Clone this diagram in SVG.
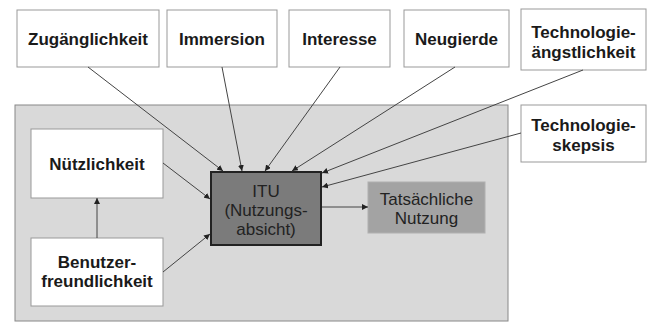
<svg xmlns="http://www.w3.org/2000/svg" width="648" height="324" viewBox="0 0 648 324">
<defs>
<marker id="ah" viewBox="0 0 10 10" refX="10" refY="5" markerWidth="6" markerHeight="6" markerUnits="userSpaceOnUse" orient="auto">
<path d="M0,0 L10,5 L0,10 z" fill="#222"/>
</marker>
<style>
.wb{fill:#fff;stroke:#999;stroke-width:1}
.bl{font-family:"Liberation Sans",Arial,sans-serif;font-weight:bold;font-size:17px;fill:#1a1a1a;text-anchor:middle}
.rl{font-family:"Liberation Sans",Arial,sans-serif;font-size:17px;fill:#222;text-anchor:middle}
.cn{stroke:#444;stroke-width:1;fill:none;marker-end:url(#ah)}
</style>
</defs>
<rect width="648" height="324" fill="#fff"/>
<g id="container"><rect x="15" y="105" width="493" height="216" fill="#d9d9d9" stroke="#888" stroke-width="1"/></g>
<g id="zugaenglichkeit"><rect class="wb" x="17" y="10" width="142" height="57"/><text class="bl" x="88" y="45">Zugänglichkeit</text></g>
<g id="immersion"><rect class="wb" x="167" y="10" width="110" height="57"/><text class="bl" x="222" y="45">Immersion</text></g>
<g id="interesse"><rect class="wb" x="289" y="10" width="101" height="57"/><text class="bl" x="339.5" y="45">Interesse</text></g>
<g id="neugierde"><rect class="wb" x="404" y="10" width="105" height="57"/><text class="bl" x="456.5" y="45">Neugierde</text></g>
<g id="technologieaengstlichkeit"><rect class="wb" x="521" y="9" width="125" height="61"/><text class="bl" x="583.5" y="38">Technologie-</text><text class="bl" x="583.5" y="58">ängstlichkeit</text></g>
<g id="technologieskepsis"><rect class="wb" x="521" y="105" width="125" height="57"/><text class="bl" x="583.5" y="131">Technologie-</text><text class="bl" x="583.5" y="151">skepsis</text></g>
<g id="nuetzlichkeit"><rect class="wb" x="31" y="129" width="132" height="69"/><text class="bl" x="97" y="170">Nützlichkeit</text></g>
<g id="benutzerfreundlichkeit"><rect class="wb" x="31" y="238" width="132" height="68"/><text class="bl" x="97" y="268">Benutzer-</text><text class="bl" x="97" y="287">freundlichkeit</text></g>
<g id="itu"><rect x="211" y="172" width="110" height="73" fill="#7b7b7b" stroke="#222" stroke-width="2"/><text class="rl" x="266" y="197">ITU</text><text class="rl" x="266" y="216">(Nutzungs-</text><text class="rl" x="266" y="235">absicht)</text></g>
<g id="tatsaechliche"><rect x="368" y="182" width="117" height="51" fill="#a3a3a3" stroke="#b0b0b0" stroke-width="1"/><text class="rl" x="426.5" y="205">Tatsächliche</text><text class="rl" x="426.5" y="224">Nutzung</text></g>
<g id="connectors">
<line class="cn" x1="88" y1="67" x2="223" y2="171"/>
<line class="cn" x1="222" y1="67" x2="242" y2="171"/>
<line class="cn" x1="340" y1="67" x2="265" y2="171"/>
<line class="cn" x1="455" y1="67" x2="292" y2="171"/>
<line class="cn" x1="583" y1="70" x2="322" y2="173"/>
<line class="cn" x1="521" y1="133" x2="322" y2="187"/>
<line class="cn" x1="163" y1="163" x2="210" y2="199"/>
<line class="cn" x1="163" y1="272" x2="210" y2="234"/>
<line class="cn" x1="97" y1="238" x2="97" y2="198"/>
<line class="cn" x1="322" y1="207" x2="368" y2="207"/>
</g>
</svg>
